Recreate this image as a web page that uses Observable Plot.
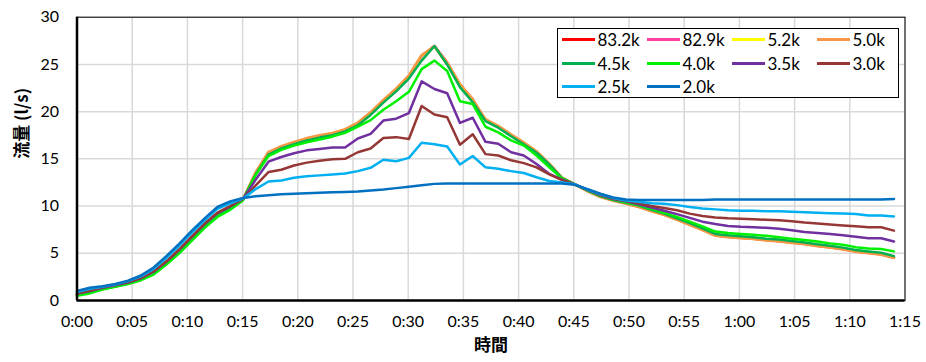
<!DOCTYPE html>
<html>
<head>
<meta charset="utf-8">
<script src="https://cdn.jsdelivr.net/npm/d3@7"></script>
<script src="https://cdn.jsdelivr.net/npm/@observablehq/plot@0.6"></script>
<style>
  html, body { margin: 0; padding: 0; background: #fff; }
  #chart { position: relative; width: 926px; height: 362px; font-family: Lato, "Noto Sans CJK JP", sans-serif; }
  #legend { position: absolute; left: 557px; top: 28px; width: 340px; height: 68px; border: 1px solid #000; background: #fff; overflow: hidden; }
  #legend .grid { position: absolute; left: 3.5px; top: -1.5px; display: grid; grid-template-columns: repeat(4, 85px); grid-auto-rows: 23.7px; font-size: 17px; color: #000; }
  #legend .item { display: flex; align-items: center; white-space: nowrap; }
  #legend .swatch { width: 33px; height: 3px; margin-right: 3px; flex: none; }
</style>
</head>
<body>
<div id="chart"><div id="legend"><div class="grid"></div></div></div>
<script>
// Tick labels of the two axes
const timeTicks = ["0:00","0:05","0:10","0:15","0:20","0:25","0:30","0:35","0:40","0:45","0:50","0:55","1:00","1:05","1:10","1:15"];
const flowTicks = [0, 5, 10, 15, 20, 25, 30];
const xLabel = "時間";
const yLabel = "流量 (l/s)";

// Sample times: 65 readings over 74 minutes
const sampleCount = 65;
const minutes = d3.range(sampleCount).map(i => i * 74 / (sampleCount - 1));

// Flow (l/s) per run
const s832 = [0.6,0.9,1.25,1.5,1.8,2.2,2.9,3.9,5.1,6.5,7.9,9.0,9.8,10.7,
  13.45,15.6,16.25,16.7,17.1,17.4,17.65,18.05,18.75,19.85,21.15,22.35,23.75,25.9,26.95,25.2,22.9,21.3,19.1,18.4,17.5,16.65,15.75,14.45,13.0,
  12.3,11.6,11.0,10.6,10.3,9.95,9.5,9.1,8.6,8.05,7.5,6.9,6.75,6.65,6.55,6.4,6.3,6.15,6.0,5.8,5.65,5.45,5.2,5.05,4.9,4.55];
const s829 = [0.6,0.9,1.25,1.5,1.8,2.2,2.9,3.9,5.1,6.5,7.9,9.0,9.8,10.7,
  13.45,15.6,16.25,16.7,17.1,17.4,17.65,18.05,18.75,19.85,21.15,22.35,23.75,25.9,26.95,25.15,22.85,21.3,19.1,18.4,17.5,16.65,15.75,14.45,13.0,
  12.3,11.6,11.0,10.6,10.3,9.95,9.5,9.1,8.6,8.05,7.5,6.9,6.75,6.65,6.55,6.4,6.3,6.15,6.0,5.8,5.65,5.45,5.2,5.05,4.9,4.55];
const s52 = [0.6,0.9,1.25,1.5,1.8,2.2,2.9,3.9,5.1,6.5,7.9,9.0,9.8,10.7,
  13.5,15.65,16.3,16.75,17.15,17.45,17.7,18.1,18.8,19.9,21.2,22.4,23.8,25.95,26.9,25.1,22.85,21.25,19.15,18.45,17.55,16.7,15.75,14.45,13.0,
  12.3,11.6,11.0,10.6,10.3,9.95,9.5,9.1,8.6,8.05,7.5,6.9,6.75,6.65,6.55,6.4,6.3,6.15,6.0,5.8,5.65,5.45,5.2,5.05,4.9,4.55];
const s50 = [0.6,0.9,1.25,1.5,1.8,2.2,2.9,3.95,5.15,6.55,7.95,9.05,9.85,10.75,
  13.6,15.75,16.35,16.8,17.2,17.5,17.75,18.15,18.85,19.95,21.25,22.45,23.85,26.0,26.9,25.0,22.8,21.2,19.2,18.5,17.6,16.75,15.8,14.5,13.0,
  12.3,11.55,10.95,10.55,10.25,9.9,9.45,9.05,8.55,8.0,7.45,6.85,6.7,6.6,6.5,6.35,6.25,6.1,5.95,5.75,5.6,5.4,5.15,5.0,4.85,4.5];
const s45 = [0.6,0.9,1.25,1.5,1.8,2.2,2.85,3.85,5.05,6.45,7.85,8.95,9.75,10.7,
  13.35,15.45,16.1,16.55,16.95,17.25,17.5,17.9,18.55,19.65,20.95,22.15,23.5,25.4,26.95,25.0,22.6,21.0,19.0,18.3,17.4,16.55,15.65,14.4,12.95,
  12.3,11.65,11.05,10.65,10.35,10.05,9.6,9.2,8.7,8.2,7.65,7.05,6.9,6.8,6.7,6.55,6.45,6.3,6.15,5.95,5.8,5.6,5.35,5.2,5.05,4.7];
const s40 = [0.5,0.75,1.15,1.45,1.75,2.15,2.75,3.8,5.0,6.35,7.7,8.85,9.6,10.6,
  13.3,15.3,15.95,16.4,16.75,17.05,17.35,17.75,18.4,19.1,20.2,21.1,22.1,24.5,25.4,24.3,21.1,20.8,18.4,17.8,16.95,16.4,15.35,14.1,12.9,
  12.3,11.65,11.1,10.7,10.4,10.1,9.7,9.3,8.85,8.35,7.85,7.3,7.15,7.05,6.95,6.85,6.7,6.55,6.4,6.25,6.05,5.9,5.65,5.5,5.45,5.2];
const s35 = [0.7,1.0,1.35,1.6,1.9,2.35,3.05,4.1,5.35,6.75,8.1,9.25,9.95,10.75,
  12.8,14.7,15.2,15.6,15.9,16.05,16.2,16.2,17.15,17.65,19.05,19.25,19.85,23.2,22.4,21.95,18.8,19.35,16.8,16.6,15.7,15.35,14.45,13.4,12.8,
  12.3,11.7,11.15,10.75,10.5,10.2,9.85,9.5,9.15,8.75,8.35,8.1,7.9,7.8,7.75,7.7,7.6,7.45,7.25,7.15,7.05,6.9,6.75,6.6,6.6,6.25];
const s30 = [0.75,1.05,1.4,1.65,1.95,2.4,3.1,4.15,5.4,6.8,8.15,9.3,10.0,10.75,
  12.2,13.6,13.85,14.3,14.6,14.8,14.95,15.0,15.7,16.1,17.2,17.3,17.1,20.6,19.7,19.4,16.5,17.6,15.5,15.35,14.85,14.55,14.1,13.35,12.75,
  12.3,11.75,11.2,10.8,10.55,10.3,10.0,9.8,9.55,9.2,8.95,8.8,8.7,8.65,8.6,8.55,8.5,8.4,8.25,8.15,8.05,7.95,7.85,7.75,7.75,7.4];
const s25 = [0.9,1.25,1.45,1.7,2.05,2.55,3.35,4.5,5.8,7.2,8.5,9.7,10.3,10.8,
  11.8,12.6,12.7,13.0,13.15,13.25,13.35,13.45,13.7,14.05,14.9,14.75,15.1,16.7,16.55,16.3,14.4,15.3,14.1,13.95,13.7,13.5,13.05,12.65,12.5,
  12.3,11.75,11.25,10.85,10.6,10.45,10.3,10.25,10.1,9.9,9.75,9.65,9.55,9.5,9.5,9.45,9.45,9.4,9.35,9.3,9.25,9.2,9.15,9.0,9.0,8.9];
const s20 = [1.0,1.35,1.5,1.75,2.1,2.65,3.5,4.7,6.0,7.4,8.7,9.9,10.5,10.85,
  11.05,11.15,11.25,11.3,11.35,11.4,11.45,11.5,11.55,11.65,11.75,11.9,12.05,12.2,12.35,12.4,12.4,12.4,12.4,12.4,12.4,12.4,12.4,12.4,12.4,
  12.25,11.8,11.3,10.9,10.7,10.65,10.65,10.65,10.65,10.65,10.65,10.7,10.7,10.7,10.7,10.7,10.7,10.7,10.7,10.7,10.7,10.7,10.7,10.7,10.7,10.75];

const seriesNames  = ["83.2k","82.9k","5.2k","5.0k","4.5k","4.0k","3.5k","3.0k","2.5k","2.0k"];
const seriesColors = ["#FF0000","#FF3FA0","#FFFF00","#F79646","#00B050","#00F000","#7030A0","#953735","#00B0F0","#0070C0"];
const seriesValues = [s832, s829, s52, s50, s45, s40, s35, s30, s25, s20];

// "h:mm" -> minutes
const toMinutes = s => { const [h, m] = s.split(":").map(Number); return h * 60 + m; };
const tickMinutes = timeTicks.map(toMinutes);
const tickLabel = new Map(timeTicks.map(s => [toMinutes(s), s]));

const gridStyle = {stroke: "#d9d9d9", strokeOpacity: 1, strokeWidth: 1.5};

const lineMarks = seriesNames.map((name, k) =>
  Plot.line(seriesValues[k].map((v, i) => ({t: minutes[i], v})), {
    x: "t", y: "v", stroke: seriesColors[k], strokeWidth: 2.5, strokeLinejoin: "round"
  })
);

const chart = Plot.plot({
  width: 926,
  height: 362,
  marginLeft: 76.5,
  marginRight: 21.5,
  marginTop: 16.7,
  marginBottom: 62,
  x: {domain: [0, 75]},
  y: {domain: [0, 30]},
  style: {fontFamily: "Lato, 'Noto Sans CJK JP', sans-serif", fontSize: "16px", color: "#000", background: "#fff"},
  marks: [
    Plot.gridX(tickMinutes, gridStyle),
    Plot.gridY(flowTicks, gridStyle),
    ...lineMarks,
    Plot.frame({stroke: "#000", strokeWidth: 1}),
    Plot.ruleX([0], {stroke: "#000", strokeWidth: 2.5}),
    Plot.ruleY([0], {stroke: "#000", strokeWidth: 2.5}),
    Plot.axisX(tickMinutes, {tickSize: 0, tickPadding: 15, tickFormat: d => tickLabel.get(d), label: null}),
    Plot.axisY(flowTicks, {tickSize: 0, tickPadding: 18, label: null}),
    Plot.text([yLabel], {text: d => d, frameAnchor: "left", dx: -54.5, rotate: -90, fontSize: 17, fontWeight: "bold", fontFamily: "'Noto Sans CJK JP', sans-serif", fill: "#000"}),
    Plot.text([xLabel], {text: d => d, frameAnchor: "bottom", dy: 50, fontSize: 17, fontWeight: "bold", fontFamily: "'Noto Sans CJK JP', sans-serif", fill: "#000"})
  ]
});

const host = document.getElementById("chart");
host.insertBefore(chart, host.firstChild);

// Legend drawn in the upper right of the plot area
const grid = document.querySelector("#legend .grid");
seriesNames.forEach((name, k) => {
  const item = document.createElement("div");
  item.className = "item";
  const sw = document.createElement("span");
  sw.className = "swatch";
  sw.style.background = seriesColors[k];
  const label = document.createElement("span");
  label.textContent = name;
  item.append(sw, label);
  grid.append(item);
});
</script>
</body>
</html>
